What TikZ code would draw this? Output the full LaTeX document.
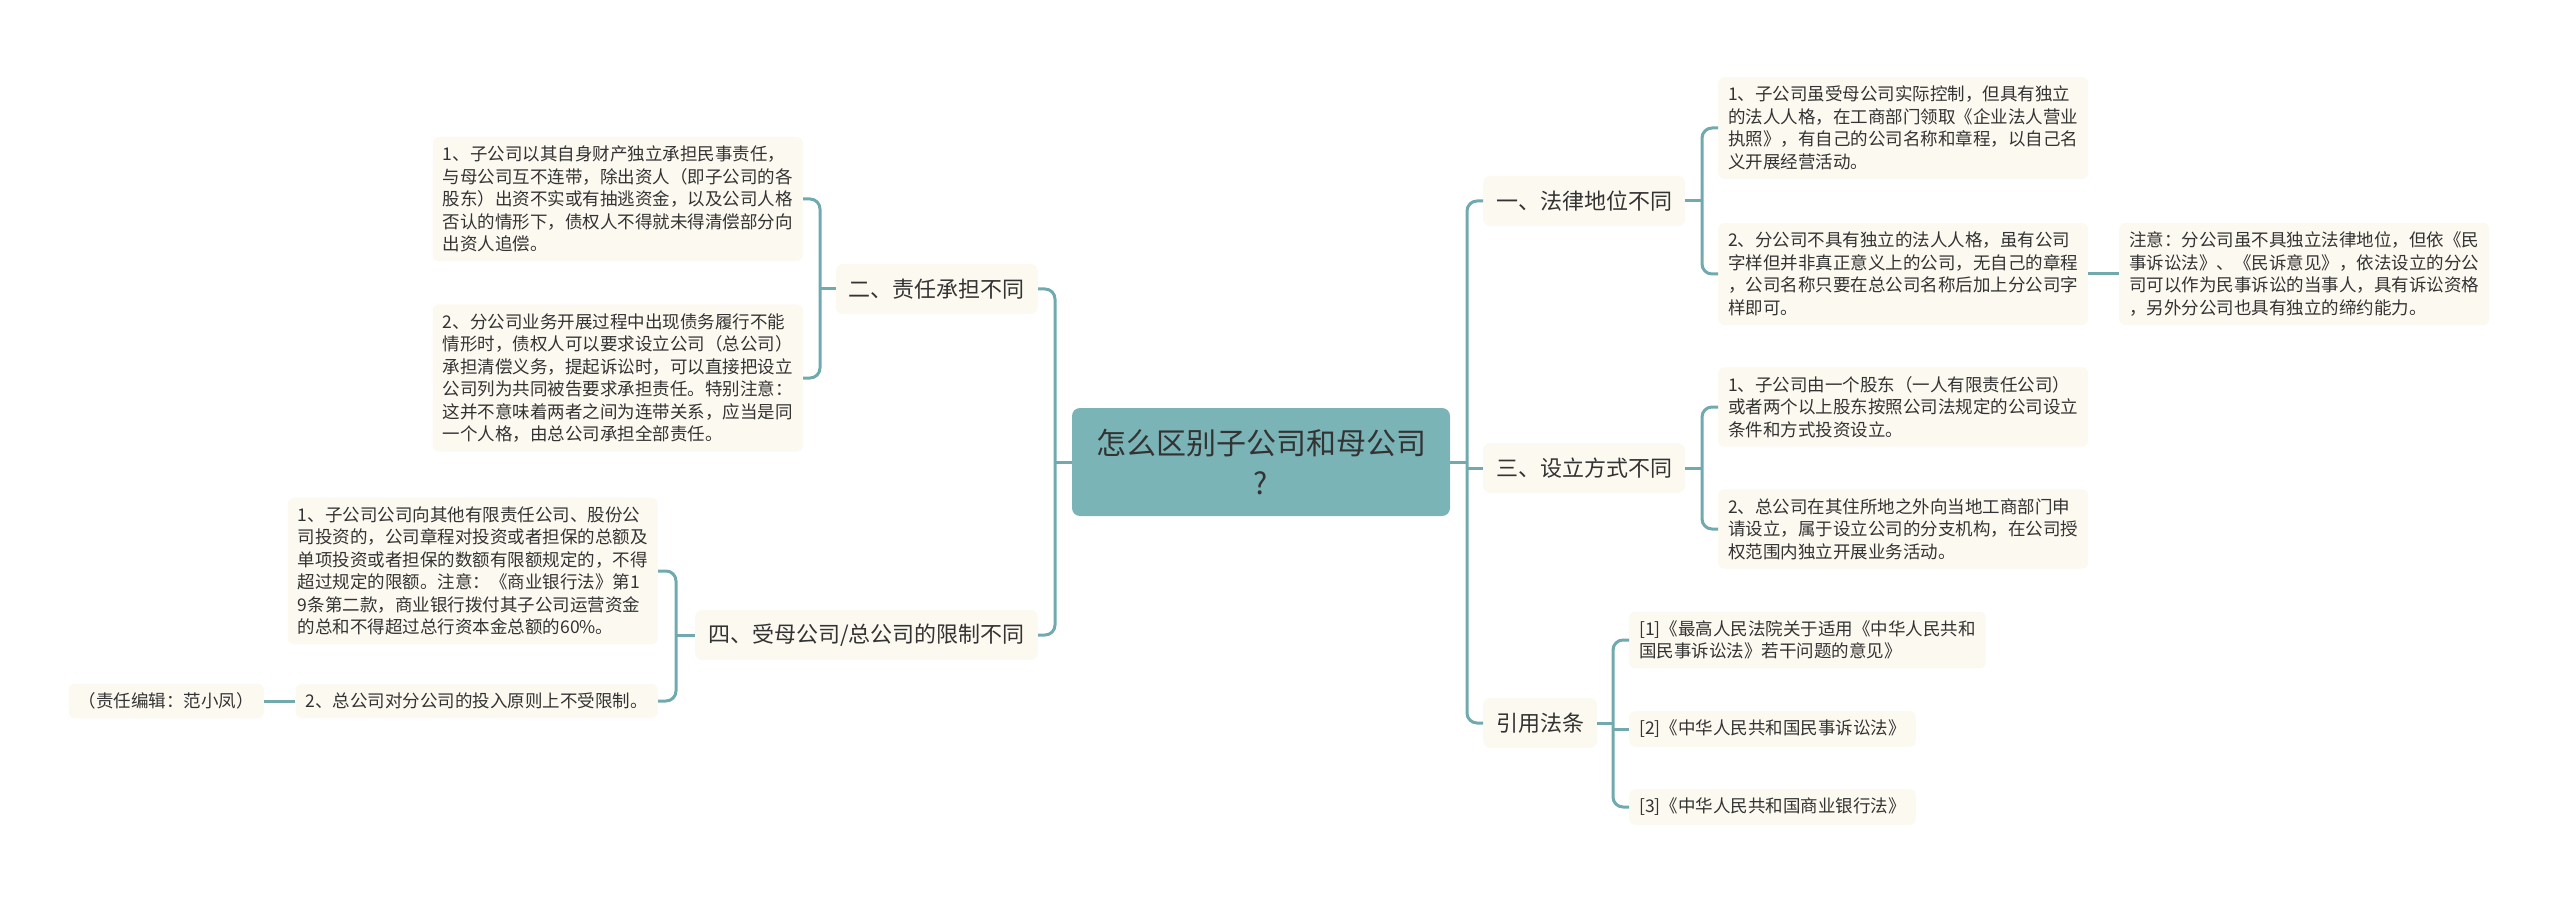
\documentclass[tikz,border=0pt]{standalone}
\usepackage{fontspec}
\setmainfont{Noto Sans CJK SC}
\definecolor{rootfill}{RGB}{122,180,182}
\definecolor{linkc}{RGB}{112,170,174}
\definecolor{leaffill}{RGB}{252,249,240}
\definecolor{txt}{RGB}{51,51,51}

\begin{document}
\begin{tikzpicture}[
    x=1pt,
    y=-1pt,
    link/.style={draw=linkc, line width=3pt, rounded corners=10pt},
    topic/.style={fill=rootfill, rounded corners=8pt, text=txt, align=center,
      font=\fontsize{30}{40}\selectfont, minimum width=378pt, minimum height=108pt},
    branch/.style={fill=leaffill, rounded corners=7pt, text=txt,
      font=\fontsize{22}{28}\selectfont, inner xsep=13pt, minimum height=50pt},
    leaf/.style={fill=leaffill, rounded corners=6pt, text=txt, align=left,
      font=\fontsize{17.5}{22.5}\selectfont, inner xsep=10pt, inner ysep=9pt}
  ]
    \useasboundingbox (0,0) rectangle (2560,901);

    % Tema central
    \node[topic] (root) at (1261,462) {怎么区别子公司和母公司\\?};

    % --- Lado derecho: 一 ---
    \node[branch, anchor=west] (fa) at (1483,201) {一、法律地位不同};
    \node[leaf, anchor=west] (fa1) at (1718,128)
      {1、子公司虽受母公司实际控制，但具有独立\\的法人人格，在工商部门领取《企业法人营业\\执照》，有自己的公司名称和章程，以自己名\\义开展经营活动。};
    \node[leaf, anchor=west] (fa2) at (1718,274)
      {2、分公司不具有独立的法人人格，虽有公司\\字样但并非真正意义上的公司，无自己的章程\\，公司名称只要在总公司名称后加上分公司字\\样即可。};
    \node[leaf, anchor=west] (note) at (2119,274)
      {注意：分公司虽不具独立法律地位，但依《民\\事诉讼法》、《民诉意见》，依法设立的分公\\司可以作为民事诉讼的当事人，具有诉讼资格\\，另外分公司也具有独立的缔约能力。};

    % --- Lado derecho: 三 ---
    \node[branch, anchor=west] (she) at (1483,468) {三、设立方式不同};
    \node[leaf, anchor=west] (she1) at (1718,407)
      {1、子公司由一个股东（一人有限责任公司）\\或者两个以上股东按照公司法规定的公司设立\\条件和方式投资设立。};
    \node[leaf, anchor=west] (she2) at (1718,529)
      {2、总公司在其住所地之外向当地工商部门申\\请设立，属于设立公司的分支机构，在公司授\\权范围内独立开展业务活动。};

    % --- Lado derecho: 引用法条 ---
    \node[branch, anchor=west] (yin) at (1483,723) {引用法条};
    \node[leaf, anchor=west] (yin1) at (1629,640)
      {[1]《最高人民法院关于适用《中华人民共和\\国民事诉讼法》若干问题的意见》};
    \node[leaf, anchor=west] (yin2) at (1629,729) {[2]《中华人民共和国民事诉讼法》};
    \node[leaf, anchor=west] (yin3) at (1629,807) {[3]《中华人民共和国商业银行法》};

    % --- Lado izquierdo: 二 ---
    \node[branch, anchor=east] (ze) at (1038,289) {二、责任承担不同};
    \node[leaf, anchor=east] (ze1) at (803,199)
      {1、子公司以其自身财产独立承担民事责任，\\与母公司互不连带，除出资人（即子公司的各\\股东）出资不实或有抽逃资金，以及公司人格\\否认的情形下，债权人不得就未得清偿部分向\\出资人追偿。};
    \node[leaf, anchor=east] (ze2) at (803,378)
      {2、分公司业务开展过程中出现债务履行不能\\情形时，债权人可以要求设立公司（总公司）\\承担清偿义务，提起诉讼时，可以直接把设立\\公司列为共同被告要求承担责任。特别注意：\\这并不意味着两者之间为连带关系，应当是同\\一个人格，由总公司承担全部责任。};

    % --- Lado izquierdo: 四 ---
    \node[branch, anchor=east] (xian) at (1038,635) {四、受母公司/总公司的限制不同};
    \node[leaf, anchor=east] (xian1) at (658,571)
      {1、子公司公司向其他有限责任公司、股份公\\司投资的，公司章程对投资或者担保的总额及\\单项投资或者担保的数额有限额规定的，不得\\超过规定的限额。注意：《商业银行法》第1\\9条第二款，商业银行拨付其子公司运营资金\\的总和不得超过总行资本金总额的60\%。};
    \node[leaf, anchor=east] (xian2) at (658,701) {2、总公司对分公司的投入原则上不受限制。};
    \node[leaf, anchor=east] (bian) at (264,701) {（责任编辑：范小凤）};

    % Conectores
    \coordinate (rr) at (1467,462);
    \coordinate (rl) at (1055,462);
    \draw[link] (root.east) -- (rr);
    \draw[link] (fa.west) -| (rr) |- (yin.west);
    \draw[link] (she.west) -- (she.west -| rr);
    \draw[link] (root.west) -- (rl);
    \draw[link] (ze.east) -| (rl) |- (xian.east);

    \coordinate (faj) at (1702,201);
    \draw[link] (fa.east) -- (faj);
    \draw[link] (fa1.west) -| (faj) |- (fa2.west);
    \draw[link] (fa2.east) -- (note.west);

    \coordinate (shej) at (1702,468);
    \draw[link] (she.east) -- (shej);
    \draw[link] (she1.west) -| (shej) |- (she2.west);

    \coordinate (yinj) at (1613,723);
    \draw[link] (yin.east) -- (yinj);
    \draw[link] (yin1.west) -| (yinj) |- (yin3.west);
    \draw[link] (yin2.west) -- (yin2.west -| yinj);

    \coordinate (zej) at (820,289);
    \draw[link] (ze.west) -- (zej);
    \draw[link] (ze1.east) -| (zej) |- (ze2.east);

    \coordinate (xianj) at (676,635);
    \draw[link] (xian.west) -- (xianj);
    \draw[link] (xian1.east) -| (xianj) |- (xian2.east);
    \draw[link] (xian2.west) -- (bian.east);
  \end{tikzpicture}
\end{document}
